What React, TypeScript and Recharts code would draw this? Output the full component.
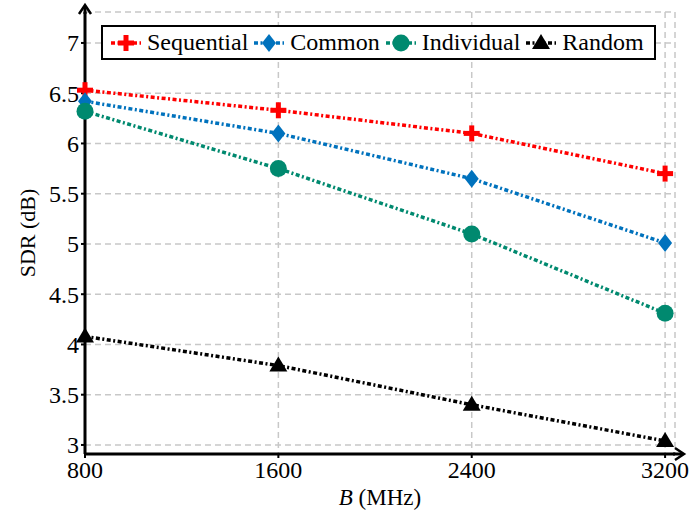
import { LineChart, Line, XAxis, YAxis, CartesianGrid } from 'recharts';

const bandwidths = [800, 1600, 2400, 3200];
const sequential = [6.53, 6.33, 6.1, 5.7];
const common = [6.42, 6.1, 5.65, 5.01];
const individual = [6.32, 5.75, 5.1, 4.31];
const random = [4.08, 3.79, 3.4, 3.04];
const xTicks = [800, 1600, 2400, 3200];
const yTicks = [3, 3.5, 4, 4.5, 5, 5.5, 6, 6.5, 7];

const data = bandwidths.map((b, i) => ({
  b,
  sequential: sequential[i],
  common: common[i],
  individual: individual[i],
  random: random[i],
}));

const FONT = "'Times New Roman', Times, Tinos, 'Liberation Serif', 'DejaVu Serif', 'Noto Serif', serif";
const DASH = '4 2.5 2 2.5';
const RED = '#ff0000';
const BLUE = '#0072bd';
const GREEN = '#00896f';
const BLACK = '#000000';

function Plus({ cx, cy, color }: any) {
  return (
    <g>
      <rect x={cx - 8} y={cy - 2.5} width={16} height={5} fill={color} />
      <rect x={cx - 2.5} y={cy - 8} width={5} height={16} fill={color} />
    </g>
  );
}

function Diamond({ cx, cy, color }: any) {
  return <polygon points={`${cx},${cy - 9} ${cx + 7},${cy} ${cx},${cy + 9} ${cx - 7},${cy}`} fill={color} />;
}

function Circle({ cx, cy, color }: any) {
  return <circle cx={cx} cy={cy} r={8.5} fill={color} />;
}

function Triangle({ cx, cy, color }: any) {
  return <polygon points={`${cx},${cy - 9} ${cx + 9},${cy + 6} ${cx - 9},${cy + 6}`} fill={color} />;
}

const series = [
  { key: 'sequential', name: 'Sequential', color: RED, Marker: Plus },
  { key: 'common', name: 'Common', color: BLUE, Marker: Diamond },
  { key: 'individual', name: 'Individual', color: GREEN, Marker: Circle },
  { key: 'random', name: 'Random', color: BLACK, Marker: Triangle },
];

function LegendBox() {
  return (
    <div
      style={{
        position: 'absolute',
        left: 101,
        top: 25,
        height: 31,
        border: '2px solid #000',
        background: '#fff',
        display: 'flex',
        alignItems: 'center',
        padding: '0 6px 0 6px',
        fontFamily: FONT,
        fontSize: 24,
        whiteSpace: 'nowrap',
      }}
    >
      {series.map((s) => (
        <div key={s.key} style={{ display: 'flex', alignItems: 'center', marginRight: 4 }}>
          <svg width={34} height={24} style={{ marginRight: 4 }}>
            <line x1={2} y1={12} x2={32} y2={12} stroke={s.color} strokeWidth={3.5} strokeDasharray={DASH} />
            <s.Marker cx={17} cy={12} color={s.color} />
          </svg>
          <span>{s.name}</span>
        </div>
      ))}
    </div>
  );
}

function YLabel({ viewBox }: any) {
  const cx = viewBox.x + 2;
  const cy = viewBox.y + viewBox.height / 2;
  return (
    <text
      x={cx}
      y={cy}
      transform={`rotate(-90 ${cx} ${cy})`}
      textAnchor="middle"
      dominantBaseline="central"
      style={{ fontFamily: FONT, fontSize: 22 }}
      fill="#000"
    >
      SDR (dB)
    </text>
  );
}

function XLabel({ viewBox }: any) {
  const cx = viewBox.x + viewBox.width / 2;
  const cy = viewBox.y + 43;
  return (
    <text x={cx} y={cy} textAnchor="middle" dominantBaseline="central" style={{ fontFamily: FONT, fontSize: 23 }} fill="#000">
      <tspan fontStyle="italic">B</tspan> (MHz)
    </text>
  );
}

const tickStyle = { fill: '#000', fontSize: 24, style: { fontFamily: FONT } };

export default function App() {
  return (
    <div style={{ position: 'absolute', left: 0, top: 0, width: 689, height: 518, background: '#fff', fontFamily: FONT }}>
      <LineChart
        width={689}
        height={518}
        data={data}
        margin={{ top: 12, right: 14, bottom: 4, left: 25 }}
        style={{ fontFamily: FONT }}
      >
        <CartesianGrid stroke="#c8c8c8" strokeWidth={1.5} strokeDasharray="6 4" />
        <XAxis
          dataKey="b"
          type="number"
          domain={[800, 3241]}
          ticks={xTicks}
          height={60}
          axisLine={{ stroke: '#000', strokeWidth: 3 }}
          tickLine={{ stroke: '#000', strokeWidth: 2 }}
          tickSize={4}
          tickMargin={3}
          tick={tickStyle}
          interval={0}
          label={<XLabel />}
        />
        <YAxis
          type="number"
          domain={[2.91, 7.308]}
          ticks={yTicks}
          width={60}
          axisLine={{ stroke: '#000', strokeWidth: 3 }}
          tickLine={{ stroke: '#000', strokeWidth: 2 }}
          tickSize={4}
          tickMargin={2}
          tick={tickStyle}
          interval={0}
          allowDataOverflow
          label={<YLabel />}
        />
        {series.map((s) => (
          <Line
            key={s.key}
            dataKey={s.key}
            name={s.name}
            type="linear"
            stroke={s.color}
            strokeWidth={3.5}
            strokeDasharray={DASH}
            isAnimationActive={false}
            dot={(p: any) => <s.Marker key={`${s.key}-${p.index}`} cx={p.cx} cy={p.cy} color={s.color} />}
            activeDot={false}
          />
        ))}
      </LineChart>
      <svg width={689} height={518} style={{ position: 'absolute', left: 0, top: 0, pointerEvents: 'none' }}>
        <line x1={85} y1={14} x2={85} y2={6} stroke="#000" strokeWidth={3} />
        <polyline points="79,14 85,5 91,14" fill="none" stroke="#000" strokeWidth={2.5} />
        <line x1={673} y1={454} x2={683} y2={454} stroke="#000" strokeWidth={3} />
        <polyline points="675,448 684,454 675,460" fill="none" stroke="#000" strokeWidth={2.5} />
      </svg>
      <LegendBox />
    </div>
  );
}
